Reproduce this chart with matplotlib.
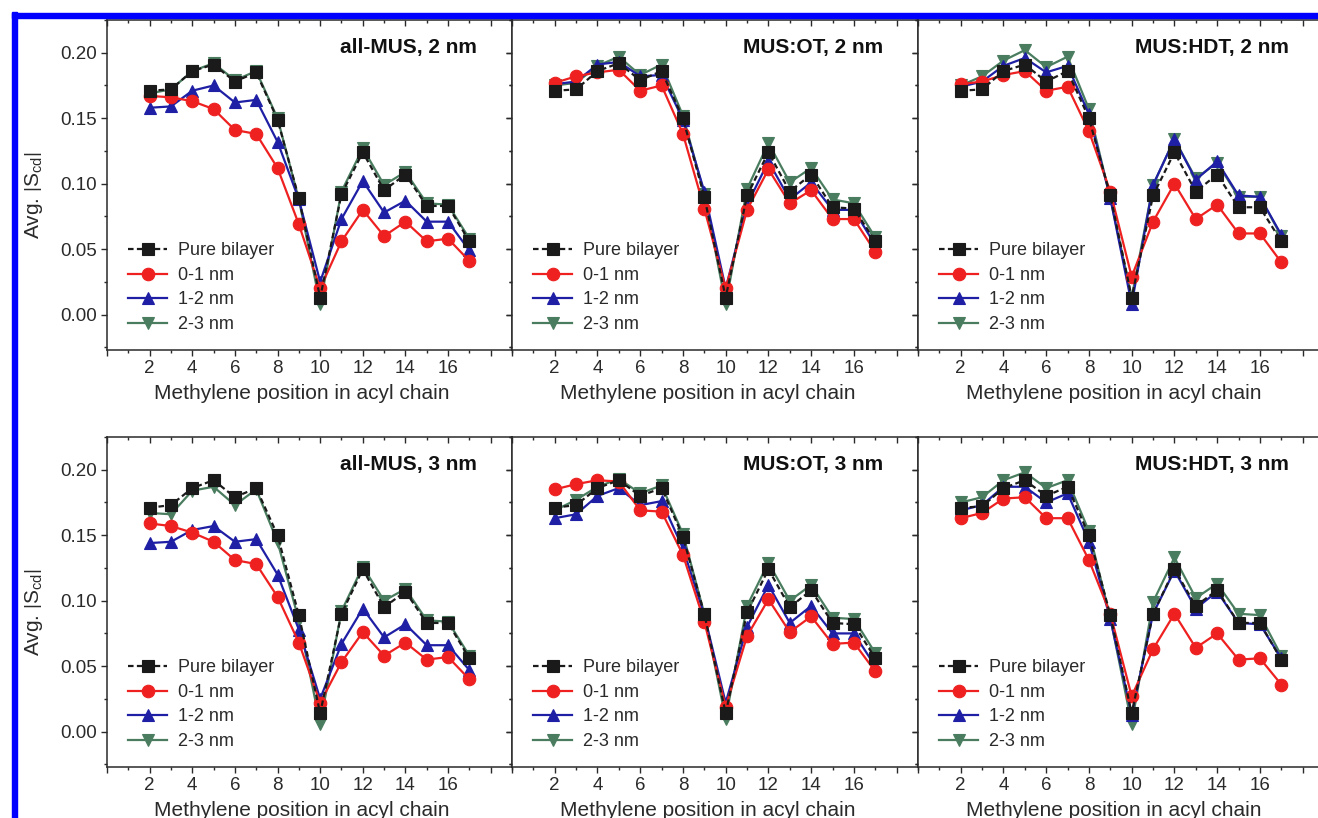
import matplotlib
matplotlib.use("Agg")
import matplotlib.pyplot as plt
from matplotlib.patches import Rectangle
from matplotlib.ticker import MultipleLocator, FixedLocator, FixedFormatter, FormatStrFormatter

plt.rcParams['font.family'] = ['Liberation Sans', 'DejaVu Sans']
plt.rcParams['mathtext.fontset'] = 'custom'
plt.rcParams['mathtext.rm'] = 'Liberation Sans'
plt.rcParams['mathtext.it'] = 'Liberation Sans:italic'

# methylene positions on the acyl chain
positions = list(range(2, 18))
series_labels = ["Pure bilayer", "0-1 nm", "1-2 nm", "2-3 nm"]
panel_titles = ["all-MUS, 2 nm", "MUS:OT, 2 nm", "MUS:HDT, 2 nm",
                "all-MUS, 3 nm", "MUS:OT, 3 nm", "MUS:HDT, 3 nm"]
xtick_values = [0, 2, 4, 6, 8, 10, 12, 14, 16, 18]
xtick_labels = ["", "2", "4", "6", "8", "10", "12", "14", "16", ""]

# all-MUS, 2 nm
allmus2_pure = [0.171, 0.172, 0.186, 0.191, 0.178, 0.185, 0.149, 0.089, 0.013, 0.092, 0.124, 0.095, 0.107, 0.083, 0.083, 0.056]
allmus2_01 = [0.167, 0.166, 0.163, 0.157, 0.141, 0.138, 0.112, 0.069, 0.020, 0.056, 0.080, 0.060, 0.071, 0.056, 0.058, 0.041]
allmus2_12 = [0.158, 0.159, 0.171, 0.175, 0.162, 0.164, 0.132, 0.088, 0.025, 0.073, 0.102, 0.078, 0.087, 0.071, 0.071, 0.049]
allmus2_23 = [0.169, 0.172, 0.186, 0.192, 0.179, 0.186, 0.150, 0.088, 0.008, 0.094, 0.127, 0.099, 0.109, 0.085, 0.084, 0.058]

# MUS:OT, 2 nm
ot2_pure = [0.171, 0.172, 0.186, 0.192, 0.179, 0.186, 0.150, 0.090, 0.013, 0.091, 0.124, 0.094, 0.107, 0.082, 0.081, 0.056]
ot2_01 = [0.177, 0.182, 0.185, 0.187, 0.171, 0.175, 0.138, 0.081, 0.020, 0.080, 0.111, 0.085, 0.095, 0.073, 0.073, 0.048]
ot2_12 = [0.176, 0.178, 0.191, 0.193, 0.182, 0.183, 0.149, 0.094, 0.020, 0.084, 0.117, 0.088, 0.101, 0.080, 0.080, 0.053]
ot2_23 = [0.175, 0.177, 0.190, 0.197, 0.183, 0.191, 0.152, 0.092, 0.008, 0.096, 0.131, 0.101, 0.112, 0.088, 0.085, 0.059]

# MUS:HDT, 2 nm
hdt2_pure = [0.171, 0.172, 0.186, 0.191, 0.178, 0.186, 0.150, 0.091, 0.013, 0.091, 0.124, 0.094, 0.107, 0.082, 0.082, 0.056]
hdt2_01 = [0.176, 0.178, 0.183, 0.186, 0.171, 0.174, 0.140, 0.094, 0.029, 0.071, 0.100, 0.073, 0.084, 0.062, 0.062, 0.040]
hdt2_12 = [0.174, 0.178, 0.190, 0.196, 0.185, 0.190, 0.153, 0.089, 0.008, 0.099, 0.134, 0.103, 0.117, 0.091, 0.090, 0.061]
hdt2_23 = [0.175, 0.182, 0.194, 0.202, 0.189, 0.197, 0.157, 0.089, 0.013, 0.099, 0.134, 0.104, 0.116, 0.090, 0.090, 0.060]

# all-MUS, 3 nm
allmus3_pure = [0.171, 0.173, 0.186, 0.192, 0.179, 0.186, 0.150, 0.089, 0.014, 0.090, 0.124, 0.095, 0.107, 0.083, 0.083, 0.056]
allmus3_01 = [0.159, 0.157, 0.152, 0.145, 0.131, 0.128, 0.103, 0.068, 0.022, 0.053, 0.076, 0.058, 0.068, 0.055, 0.057, 0.040]
allmus3_12 = [0.144, 0.145, 0.154, 0.157, 0.145, 0.147, 0.120, 0.078, 0.025, 0.067, 0.094, 0.072, 0.082, 0.066, 0.066, 0.047]
allmus3_23 = [0.167, 0.166, 0.184, 0.187, 0.173, 0.185, 0.145, 0.085, 0.006, 0.092, 0.126, 0.100, 0.109, 0.085, 0.084, 0.058]

# MUS:OT, 3 nm
ot3_pure = [0.171, 0.173, 0.186, 0.192, 0.180, 0.186, 0.149, 0.090, 0.014, 0.091, 0.124, 0.095, 0.108, 0.083, 0.082, 0.056]
ot3_01 = [0.185, 0.189, 0.192, 0.191, 0.169, 0.168, 0.135, 0.084, 0.019, 0.073, 0.101, 0.076, 0.088, 0.067, 0.068, 0.046]
ot3_12 = [0.163, 0.166, 0.180, 0.186, 0.173, 0.176, 0.140, 0.089, 0.022, 0.080, 0.112, 0.083, 0.096, 0.075, 0.075, 0.050]
ot3_23 = [0.169, 0.177, 0.187, 0.193, 0.182, 0.188, 0.151, 0.090, 0.010, 0.096, 0.129, 0.100, 0.112, 0.087, 0.086, 0.060]

# MUS:HDT, 3 nm
hdt3_pure = [0.171, 0.172, 0.186, 0.192, 0.180, 0.187, 0.150, 0.089, 0.014, 0.090, 0.124, 0.096, 0.108, 0.083, 0.083, 0.055]
hdt3_01 = [0.163, 0.167, 0.178, 0.179, 0.163, 0.163, 0.131, 0.090, 0.027, 0.063, 0.090, 0.064, 0.075, 0.055, 0.056, 0.036]
hdt3_12 = [0.169, 0.173, 0.187, 0.187, 0.175, 0.182, 0.145, 0.086, 0.013, 0.090, 0.123, 0.094, 0.107, 0.083, 0.082, 0.056]
hdt3_23 = [0.175, 0.179, 0.192, 0.198, 0.186, 0.192, 0.153, 0.087, 0.006, 0.099, 0.133, 0.102, 0.113, 0.090, 0.089, 0.058]

panels = [
    (allmus2_pure, allmus2_01, allmus2_12, allmus2_23),
    (ot2_pure, ot2_01, ot2_12, ot2_23),
    (hdt2_pure, hdt2_01, hdt2_12, hdt2_23),
    (allmus3_pure, allmus3_01, allmus3_12, allmus3_23),
    (ot3_pure, ot3_01, ot3_12, ot3_23),
    (hdt3_pure, hdt3_01, hdt3_12, hdt3_23),
]

W, H = 1318, 818
fig = plt.figure(figsize=(W / 100, H / 100), dpi=100)

# blue frame (top and left edges only, picture is cropped)
fig.patches.append(Rectangle((12 / W, 0), 5 / W, (H - 12) / H, transform=fig.transFigure,
                             color="#0000ff", zorder=10))
fig.patches.append(Rectangle((12 / W, (H - 18) / H), (W - 12) / W, 5 / H, transform=fig.transFigure,
                             color="#0000ff", zorder=10))

col_edges = [107, 512, 918, 1324]
row_edges = [(20, 350), (437, 767)]
ink = "#2a2a2a"
colors = ["#1a1a1a", "#ee2020", "#1f1fa5", "#4a7d5f"]
markers = ["s", "o", "^", "v"]

for i, data in enumerate(panels):
    r, c = divmod(i, 3)
    top, bottom = row_edges[r]
    left, right = col_edges[c], col_edges[c + 1]
    ax = fig.add_axes([left / W, (H - bottom) / H, (right - left) / W, (bottom - top) / H])

    handles = []
    for j, (ys, col, mk, lab) in enumerate(zip(data, colors, markers, series_labels)):
        ls = (0, (2.5, 1.5)) if j == 0 else "-"
        z = 5 if j == 0 else 4 - j * 0.1
        h, = ax.plot(positions, ys, color=col, marker=mk, markersize=9, linewidth=1.6,
                     linestyle=ls, label=lab, zorder=z, markeredgewidth=0.8)
        handles.append(h)

    ax.set_xlim(0, 19)
    ax.set_ylim(-0.027, 0.225)
    ax.xaxis.set_major_locator(FixedLocator(xtick_values))
    ax.xaxis.set_major_formatter(FixedFormatter(xtick_labels))
    ax.xaxis.set_minor_locator(MultipleLocator(1))
    ax.yaxis.set_major_locator(MultipleLocator(0.05))
    ax.yaxis.set_minor_locator(MultipleLocator(0.025))
    ax.yaxis.set_major_formatter(FormatStrFormatter("%.2f"))
    ax.tick_params(which="both", direction="out", colors=ink, width=1.0, labelsize=13.5,
                   labelcolor=ink)
    ax.tick_params(which="major", length=4.5, pad=3)
    ax.tick_params(which="minor", length=2.5)
    for sp in ax.spines.values():
        sp.set_color(ink)
        sp.set_linewidth(1.1)

    sec_x = ax.secondary_xaxis("top")
    sec_x.xaxis.set_major_locator(FixedLocator(xtick_values))
    sec_x.xaxis.set_minor_locator(MultipleLocator(1))
    sec_x.tick_params(which="both", direction="in", colors=ink, width=1.0, labeltop=False)
    sec_x.tick_params(which="major", length=4.5)
    sec_x.tick_params(which="minor", length=2.5)
    sec_x.spines["top"].set_visible(False)

    sec_y = ax.secondary_yaxis("right")
    sec_y.yaxis.set_major_locator(MultipleLocator(0.05))
    sec_y.yaxis.set_minor_locator(MultipleLocator(0.025))
    sec_y.tick_params(which="both", direction="in", colors=ink, width=1.0, labelright=False)
    sec_y.tick_params(which="major", length=4.5)
    sec_y.tick_params(which="minor", length=2.5)
    sec_y.spines["right"].set_visible(False)

    if c == 0:
        ax.set_ylabel(r"Avg. $\left|\mathrm{S_{cd}}\right|$", fontsize=15, color=ink)
        ax.yaxis.set_label_coords(-62 / 405, 0.47)
    else:
        ax.tick_params(axis="y", labelleft=False)

    ax.set_xlabel("Methylene position in acyl chain", fontsize=15, color=ink)
    ax.xaxis.set_label_coords(0.482, -0.104)

    ax.annotate(panel_titles[i], xy=(1, 1), xycoords="axes fraction",
                xytext=(-25, -20), textcoords="offset points",
                ha="right", va="center", fontsize=15, fontweight="bold", color="#111111")

    ax.legend(handles=handles, loc="lower left", bbox_to_anchor=(0.02, 0.013), frameon=False,
              fontsize=13, numpoints=1, handlelength=2.2, handletextpad=0.6,
              labelspacing=0.42, borderpad=0.2, labelcolor=ink)

fig.savefig("out.png", dpi=100)
